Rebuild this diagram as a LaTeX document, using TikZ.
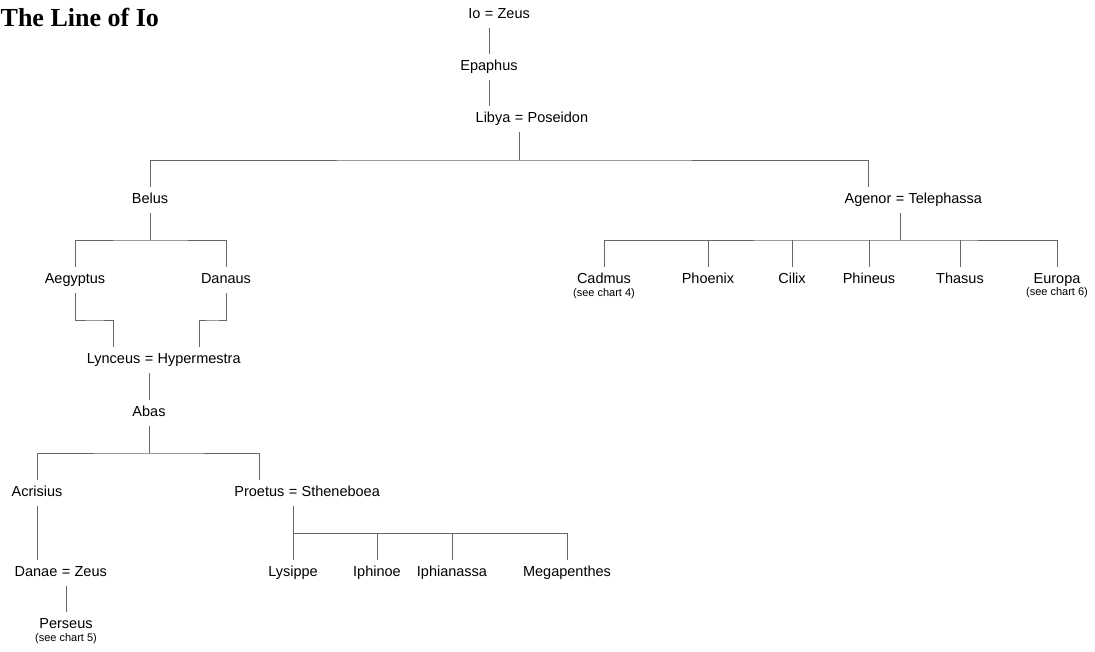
\documentclass[tikz,border=0pt]{standalone}
\usepackage{fontspec}
\setmainfont{Liberation Sans}
\newfontfamily\titlefont{Liberation Serif}
\usetikzlibrary{calc}
\begin{document}
\begin{tikzpicture}[x=1pt,y=-1pt,
  person/.style={inner xsep=0pt, inner ysep=6.25pt, text height=10.5pt, text depth=3pt, font=\fontsize{14.5}{17}\selectfont},
  note/.style={inner sep=0pt, font=\fontsize{11}{13}\selectfont},
  link/.style={draw=black!60, line width=0.8pt}]
\path[use as bounding box] (0,0) rectangle (1095,651);
\clip (0,0) rectangle (1095,651);
\fill[white] (0,0) rectangle (1095,651);

\node[anchor=base west, inner sep=0pt, font=\titlefont\bfseries\fontsize{26}{30}\selectfont] (title) at (0.5,26) {The Line of Io};

% Io = Zeus
\node[person] (ioeq) at (489,15) {=};
\node[person,anchor=east] (io) at ([xshift=-4pt]ioeq.west) {Io};
\node[person,anchor=west] (zeusA) at ([xshift=4pt]ioeq.east) {Zeus};
\node[person] (epaphus) at (489,67) {Epaphus};
% Libya = Poseidon
\node[person] (libeq) at (519,119) {=};
\node[person,anchor=east] (libya) at ([xshift=-4pt]libeq.west) {Libya};
\node[person,anchor=west] (poseidon) at ([xshift=4pt]libeq.east) {Poseidon};

\node[person] (belus) at (150,200) {Belus};
% Agenor = Telephassa
\node[person] (ageq) at (900,200) {=};
\node[person,anchor=east] (agenor) at ([xshift=-4pt]ageq.west) {Agenor};
\node[person,anchor=west] (telephassa) at ([xshift=4pt]ageq.east) {Telephassa};

\node[person] (aegyptus) at (75,280) {Aegyptus};
\node[person] (danaus) at (226,280) {Danaus};

\node[person] (cadmus) at (604,280) {Cadmus};
\node[note] (cadmusnote) at (604,294) {(see chart 4)};
\node[person] (phoenix) at (708,280) {Phoenix};
\node[person] (cilix) at (792,280) {Cilix};
\node[person] (phineus) at (869,280) {Phineus};
\node[person] (thasus) at (960,280) {Thasus};
\node[person] (europa) at (1057,280) {Europa};
\node[note] (europanote) at (1057,293) {(see chart 6)};

% Lynceus = Hypermestra
\node[person] (lyneq) at (149,360) {=};
\node[person,anchor=east] (lynceus) at ([xshift=-4pt]lyneq.west) {Lynceus};
\node[person,anchor=west] (hypermestra) at ([xshift=4pt]lyneq.east) {Hypermestra};

\node[person] (abas) at (149,413) {Abas};
\node[person] (acrisius) at (37,493) {Acrisius};
% Proetus = Stheneboea
\node[person] (proeq) at (293,493) {=};
\node[person,anchor=east] (proetus) at ([xshift=-4pt]proeq.west) {Proetus};
\node[person,anchor=west] (stheneboea) at ([xshift=4pt]proeq.east) {Stheneboea};

% Danae = Zeus
\node[person] (daneq) at (66,573) {=};
\node[person,anchor=east] (danae) at ([xshift=-4pt]daneq.west) {Danae};
\node[person,anchor=west] (zeusB) at ([xshift=4pt]daneq.east) {Zeus};
\node[person] (perseus) at (66,625) {Perseus};
\node[note] (perseusnote) at (66,639) {(see chart 5)};

\node[person] (lysippe) at (293,573) {Lysippe};
\node[person] (iphinoe) at (377,573) {Iphinoe};
\node[person] (iphianassa) at (452,573) {Iphianassa};
\node[person] (megapenthes) at (567,573) {Megapenthes};

% connectors
\draw[link] (ioeq.south) -- (epaphus.north);
\draw[link] (epaphus.south) -- (epaphus.south |- libya.north);
\coordinate (mainbar) at (519,160);
\draw[link] (libeq.south) -- (mainbar);
\draw[link] (belus.north) |- (mainbar) -| (agenor.north);

\coordinate (belusbar) at (150,240);
\draw[link] (belus.south) -- (belusbar);
\draw[link] (aegyptus.north) |- (belusbar) -| (danaus.north);

\coordinate (agbar) at (900,240);
\draw[link] (ageq.south) -- (agbar);
\draw[link] (cadmus.north) |- (agbar) -| (europa.north);
\draw[link] (phoenix.north) -- (phoenix.north |- agbar);
\draw[link] (cilix.north) -- (cilix.north |- agbar);
\draw[link] (phineus.north) -- (phineus.north |- agbar);
\draw[link] (thasus.north) -- (thasus.north |- agbar);

\draw[link] (aegyptus.south) |- ($(aegyptus.south)!.5!(lynceus.north)$) -| (lynceus.north);
\draw[link] (danaus.south) |- ($(danaus.south)!.5!(hypermestra.north)$) -| (hypermestra.north);

\draw[link] (lyneq.south) -- (abas.north);
\coordinate (abasbar) at (149,453);
\draw[link] (abas.south) -- (abasbar);
\draw[link] (acrisius.north) |- (abasbar) -| (proetus.north);

\draw[link] (acrisius.south) -- (acrisius.south |- danae.north);
\draw[link] (daneq.south) -- (perseus.north);

\coordinate (probar) at (293,533);
\draw[link] (proeq.south) -- (lysippe.north);
\draw[link] (probar) -| (megapenthes.north);
\draw[link] (iphinoe.north) -- (iphinoe.north |- probar);
\draw[link] (iphianassa.north) -- (iphianassa.north |- probar);
\end{tikzpicture}
\end{document}
